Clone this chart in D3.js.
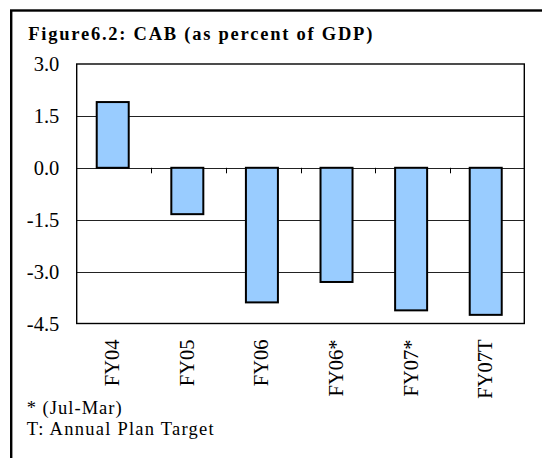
<!DOCTYPE html>
<html>
<head>
<meta charset="utf-8">
<script src="https://cdn.jsdelivr.net/npm/d3@7"></script>
<style>
  html, body { margin: 0; padding: 0; background: #fff; }
  svg { display: block; }
</style>
</head>
<body>
<svg id="chart" width="542" height="458"></svg>
<script>
const categories = ["FY04", "FY05", "FY06", "FY06*", "FY07*", "FY07T"];
const values = [1.90, -1.34, -3.89, -3.30, -4.12, -4.25];
const yTicks = [3.0, 1.5, 0.0, -1.5, -3.0, -4.5];
const titleText = "Figure6.2: CAB (as percent of GDP)";
const notes = ["* (Jul-Mar)", "T: Annual Plan Target"];

const FONT = "Liberation Serif";
const svg = d3.select("#chart");
const plot = { left: 76.7, right: 524.3, top: 64, bottom: 323.5 };

// outer frame (only left and top visible)
svg.append("rect")
  .attr("x", 11.2).attr("y", 10.5)
  .attr("width", 1000).attr("height", 1000)
  .attr("fill", "none").attr("stroke", "#000").attr("stroke-width", 2.4);

// title
svg.append("text")
  .attr("x", 28.3).attr("y", 39.5)
  .attr("font-family", FONT)
  .attr("font-size", 18.5).attr("font-weight", "bold")
  .attr("textLength", 344).attr("lengthAdjust", "spacing")
  .text(titleText);

const x = d3.scaleBand()
  .domain(categories)
  .range([plot.left, plot.right])
  .paddingInner(0.571)
  .paddingOuter(0.2855)
  .align(0.47);

const y = d3.scaleLinear()
  .domain([-4.5, 3.0])
  .range([plot.bottom, plot.top]);

// gridlines
svg.append("g").selectAll("line")
  .data(yTicks.filter(v => v > -4.5 && v < 3.0))
  .join("line")
  .attr("x1", plot.left).attr("x2", plot.right)
  .attr("y1", d => Math.round(y(d)) + 0.5).attr("y2", d => Math.round(y(d)) + 0.5)
  .attr("stroke", "#222").attr("stroke-width", 1);

// plot border
svg.append("rect")
  .attr("x", plot.left).attr("y", plot.top)
  .attr("width", plot.right - plot.left).attr("height", plot.bottom - plot.top)
  .attr("fill", "none").attr("stroke", "#000").attr("stroke-width", 1.4);

// y axis labels
const yAxis = d3.axisLeft(y)
  .tickValues(yTicks)
  .tickFormat(d => d.toFixed(1))
  .tickSize(0)
  .tickPadding(17.4);
const gy = svg.append("g")
  .attr("transform", `translate(${plot.left},0)`)
  .call(yAxis)
  .attr("font-family", FONT)
  .attr("font-size", 20.5);
gy.select(".domain").remove();
gy.selectAll("text").attr("fill", "#000");

// bars
svg.append("g").selectAll("rect")
  .data(categories.map((c, i) => ({ c, v: values[i] })))
  .join("rect")
  .attr("x", d => x(d.c))
  .attr("width", x.bandwidth())
  .attr("y", d => y(Math.max(0, d.v)))
  .attr("height", d => Math.abs(y(d.v) - y(0)))
  .attr("fill", "#99CCFF")
  .attr("stroke", "#000")
  .attr("stroke-width", 2);

// category boundary ticks on the zero line
svg.append("g").selectAll("line")
  .data(d3.range(1, categories.length))
  .join("line")
  .attr("x1", i => Math.round(plot.left + i * x.step()) + 0.5)
  .attr("x2", i => Math.round(plot.left + i * x.step()) + 0.5)
  .attr("y1", y(0)).attr("y2", y(0) + 5.5)
  .attr("stroke", "#000").attr("stroke-width", 1);

// x labels (rotated)
svg.append("g").selectAll("text")
  .data(categories)
  .join("text")
  .attr("transform", d => `translate(${x(d) + x.bandwidth() / 2 + 6.5},339.5) rotate(-90)`)
  .attr("text-anchor", "end")
  .attr("font-family", FONT)
  .attr("font-size", 20.5)
  .attr("fill", "#000")
  .text(d => d);

// footnotes
svg.append("text")
  .attr("x", 26.7).attr("y", 414.3)
  .attr("font-family", FONT)
  .attr("font-size", 18.5)
  .attr("textLength", 95).attr("lengthAdjust", "spacing")
  .text(notes[0]);
svg.append("text")
  .attr("x", 26.7).attr("y", 434.5)
  .attr("font-family", FONT)
  .attr("font-size", 18.5)
  .attr("textLength", 187).attr("lengthAdjust", "spacing")
  .text(notes[1]);
</script>
</body>
</html>
